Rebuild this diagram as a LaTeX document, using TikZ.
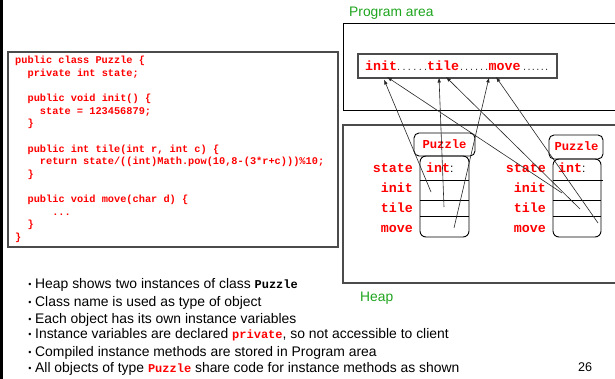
\documentclass[tikz,border=0pt]{standalone}
\usepackage{fontspec}
\setmainfont{Liberation Sans}
\setmonofont{Liberation Mono}
\usetikzlibrary{arrows.meta}
\definecolor{codered}{RGB}{255,0,0}
\definecolor{lblgreen}{RGB}{30,165,30}
\definecolor{boxgray}{RGB}{75,75,75}
\begin{document}
\begin{tikzpicture}[x=1pt,y=-1pt,
  code/.style={anchor=base west, inner sep=0pt, font=\fontsize{10.3}{12}\ttfamily\bfseries, text=codered},
  fld/.style={anchor=base east, inner sep=0pt, font=\fontsize{13.3}{14}\ttfamily\bfseries, text=codered},
  fldtype/.style={anchor=base west, inner sep=0pt, font=\fontsize{13.3}{14}\ttfamily\bfseries, text=codered},
  cls/.style={anchor=base, inner sep=0pt, font=\fontsize{12.2}{13}\ttfamily\bfseries, text=codered},
  mtext/.style={anchor=base west, inner sep=0pt, font=\fontsize{13.3}{14}\ttfamily\bfseries, text=codered},
  dotsty/.style={anchor=base west, inner sep=0pt, font=\fontsize{11}{12}\selectfont, text=black!80},
  bul/.style={anchor=base west, inner sep=0pt, font=\fontsize{13.9}{16}\selectfont},
  bdot/.style={anchor=base, inner sep=0pt, font=\fontsize{9}{10}\selectfont},
  area/.style={anchor=base west, inner sep=0pt, font=\fontsize{13.8}{15}\selectfont, text=lblgreen},
  ptr/.style={draw=black!85, line width=0.6pt, -{Latex[length=5pt,width=3.5pt]}},
  frame/.style={draw=boxgray, line width=1.2pt},
  objline/.style={draw=black, line width=0.9pt},
]
\clip (0,0) rectangle (615,379);
\fill[white] (0,0) rectangle (615,379);
% left slide edge
\fill[black] (0,0) rectangle (2.5,379);

% code box
\draw[frame, fill=white] (8,52) rectangle (338,247);
\node[code] (c1) at (15,64) {public class Puzzle \{};
\node[code] (c2) at (27.4,76.6) {private int state;};
\node[code] (c3) at (27.4,101.8) {public void init() \{};
\node[code] (c4) at (39.7,114.4) {state = 123456879;};
\node[code] (c5) at (27.4,127) {\}};
\node[code] (c6) at (27.4,152.2) {public int tile(int r, int c) \{};
\node[code] (c7) at (39.7,164.8) {return state/((int)Math.pow(10,8-(3*r+c)))\%10;};
\node[code] (c8) at (27.4,177.4) {\}};
\node[code] (c9) at (27.4,202.6) {public void move(char d) \{};
\node[code] (c10) at (52.1,215.2) {...};
\node[code] (c11) at (27.4,227.8) {\}};
\node[code] (c12) at (15,240.4) {\}};

% program area
\node[area] (plabel) at (349,17) {Program area};
\draw[black, line width=1pt] (343,24) rectangle (640,111);
\draw[frame, line width=1.1pt] (358,54) rectangle (557,78);
\node[mtext] (minit) at (365,71) {init};
\node[dotsty] (d1) at (397,71) {\makebox[30pt][s]{.\hfill.\hfill.\hfill.\hfill.\hfill.}};
\node[mtext] (mtile) at (427,71) {tile};
\node[dotsty] (d2) at (460,71) {\makebox[28pt][s]{.\hfill.\hfill.\hfill.\hfill.\hfill.}};
\node[mtext] (mmove) at (488.5,71) {move};
\node[dotsty] (d3) at (523,71) {\makebox[25pt][s]{.\hfill.\hfill.\hfill.\hfill.\hfill.}};

% heap
\draw[frame, line width=1.4pt] (343,125) rectangle (640,283);
\node[area] (hlabel) at (360,301) {Heap};

% left object
\draw[objline, rounded corners=6pt] (420,156) rectangle (469,237);
\draw[objline, rounded corners=5pt] (414,133) rectangle (475,156);
\draw[objline] (420,180) -- (469,180) (420,200) -- (469,200) (420,216) -- (469,216);
\node[cls] (lcls) at (444.5,148.5) {Puzzle};
\node[fldtype] (ltype) at (426,173) {int\textcolor{black}{\fontsize{12}{13}\rmfamily\mdseries :}};
\node[fld] (lstate) at (413,173) {state};
\node[fld] (linit) at (413,193) {init};
\node[fld] (ltile) at (413,213) {tile};
\node[fld] (lmove) at (413,233) {move};

% right object
\draw[objline, rounded corners=6pt] (553,159) rectangle (601,237);
\draw[objline, rounded corners=5pt] (549,135) rectangle (603,159);
\draw[objline] (553,180) -- (603,180) (553,200) -- (601,200) (553,216) -- (601,216);
\node[cls] (rcls) at (576.5,151) {Puzzle};
\node[fldtype] (rtype) at (558,173) {int\textcolor{black}{\fontsize{12}{13}\rmfamily\mdseries :}};
\node[fld] (rstate) at (546,173) {state};
\node[fld] (rinit) at (546,193) {init};
\node[fld] (rtile) at (546,213) {tile};
\node[fld] (rmove) at (546,233) {move};

% pointer coordinates
\coordinate (Linit) at (431,192);
\coordinate (Ltile) at (444,207);
\coordinate (Lmove) at (454,228);
\coordinate (Rinit) at (562,193);
\coordinate (Rtile) at (580,209);
\coordinate (Rmove) at (598,223);
\coordinate (TinitA) at (384,79.5);
\coordinate (TinitB) at (387,77);
\coordinate (TtileA) at (439,77.5);
\coordinate (TtileB) at (446,77);
\coordinate (TmoveA) at (489,77.5);
\coordinate (TmoveB) at (496,77);
\draw[ptr] (Linit) -- (TinitA);
\draw[ptr] (Rinit) -- (TinitB);
\draw[ptr] (Ltile) -- (TtileA);
\draw[ptr] (Rtile) -- (TtileB);
\draw[ptr] (Lmove) -- (TmoveA);
\draw[ptr] (Rmove) -- (TmoveB);

% bullets
\foreach \yy/\nm in {288/b1,306/b2,323/b3,338.5/b4,356/b5,372/b6}{
  \node[bdot] (\nm dot) at (30,\yy-1) {\textbullet};
}
\node[bul] (b1) at (35,288) {Heap shows two instances of class {\fontsize{12}{13}\ttfamily\bfseries Puzzle}};
\node[bul] (b2) at (35,306) {Class name is used as type of object};
\node[bul] (b3) at (35,323) {Each object has its own instance variables};
\node[bul] (b4) at (35,338.5) {Instance variables are declared {\fontsize{12}{13}\ttfamily\bfseries\color{codered}private}, so not accessible to client};
\node[bul] (b5) at (35,356) {Compiled instance methods are stored in Program area};
\node[bul] (b6) at (35,372) {All objects of type {\fontsize{12}{13}\ttfamily\bfseries\color{codered}Puzzle} share code for instance methods as shown};
\node[anchor=base west, inner sep=0pt, font=\fontsize{12.6}{14}\selectfont] (pnum) at (578,371) {26};
\end{tikzpicture}
\end{document}
